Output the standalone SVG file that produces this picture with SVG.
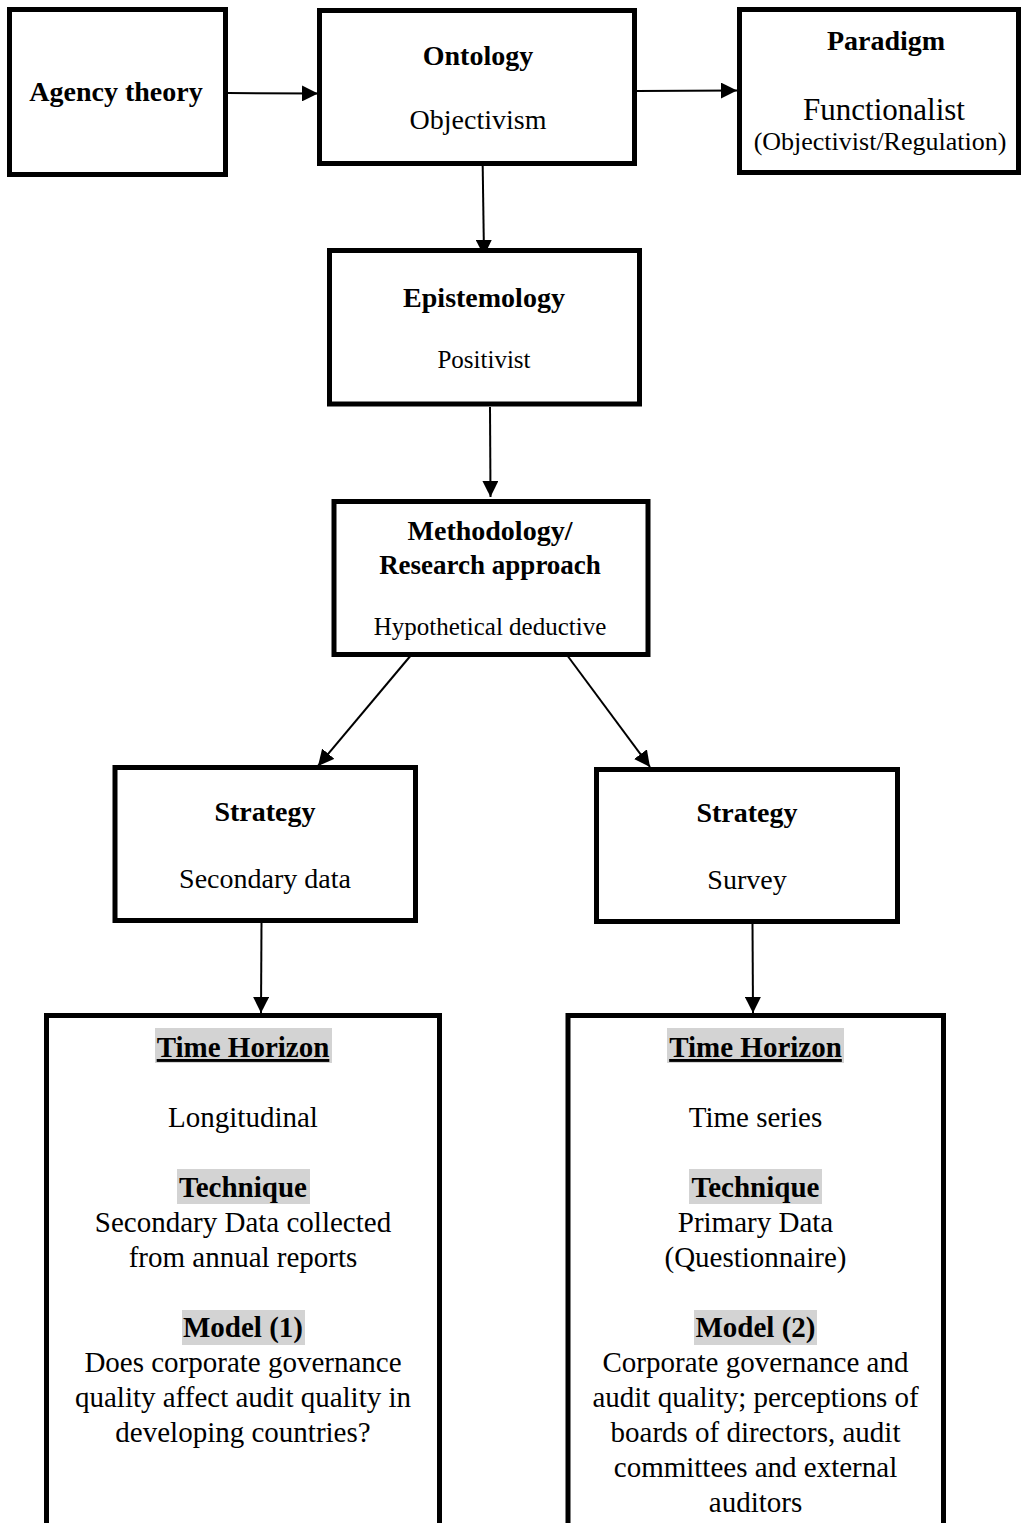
<svg xmlns="http://www.w3.org/2000/svg" width="1021" height="1523" viewBox="0 0 1021 1523">
<defs>
<style>
.box{fill:#fff;stroke:#000;stroke-width:5}
.t{font-family:"Liberation Serif","Times New Roman",serif;fill:#000;text-anchor:middle}
.b{font-weight:bold}
.hl{fill:#d3d3d3}
.c{stroke:#000;stroke-width:2;fill:none;marker-end:url(#ah)}
</style>
<marker id="ah" markerUnits="userSpaceOnUse" markerWidth="16" markerHeight="16" viewBox="0 0 14 14" refX="14" refY="7" orient="auto">
<path d="M0,0 L14,7 L0,14 Z" fill="#000"/>
</marker>
</defs>
<rect width="1021" height="1523" fill="#fff"/>

<g id="connectors">
<line class="c" x1="228" y1="93" x2="318" y2="93.5"/>
<line class="c" x1="637" y1="91" x2="737" y2="90.5"/>
<line class="c" x1="482.7" y1="166" x2="484" y2="256"/>
<line class="c" x1="490" y1="407" x2="490.5" y2="497"/>
<line class="c" x1="412" y1="654" x2="318" y2="766"/>
<line class="c" x1="564" y1="651" x2="650" y2="767"/>
<line class="c" x1="261.5" y1="923" x2="261" y2="1013"/>
<line class="c" x1="752.5" y1="924" x2="753" y2="1013"/>
</g>

<g id="agency">
<rect class="box" x="9.5" y="9.5" width="216" height="165"/>
<text class="t b" x="116" y="101" font-size="28">Agency theory</text>
</g>

<g id="ontology">
<rect class="box" x="319.5" y="10.5" width="315" height="153"/>
<text class="t b" x="478" y="65" font-size="28">Ontology</text>
<text class="t" x="478" y="129" font-size="28">Objectivism</text>
</g>

<g id="paradigm">
<rect class="box" x="739.5" y="9.5" width="279" height="163"/>
<text class="t b" x="886" y="50" font-size="28">Paradigm</text>
<text class="t" x="884" y="120" font-size="31">Functionalist</text>
<text class="t" x="880" y="150" font-size="26">(Objectivist/Regulation)</text>
</g>

<g id="epistemology">
<rect class="box" x="329.5" y="250.5" width="310" height="153.5"/>
<text class="t b" x="484" y="307" font-size="28">Epistemology</text>
<text class="t" x="484" y="368" font-size="25">Positivist</text>
</g>

<g id="methodology">
<rect class="box" x="334" y="501.5" width="314" height="153"/>
<text class="t b" x="490" y="540" font-size="28">Methodology/</text>
<text class="t b" x="490" y="574" font-size="27">Research approach</text>
<text class="t" x="490" y="635" font-size="25">Hypothetical deductive</text>
</g>

<g id="strategy-left">
<rect class="box" x="115" y="767.5" width="300.5" height="153"/>
<text class="t b" x="265" y="821" font-size="28">Strategy</text>
<text class="t" x="265" y="888" font-size="28">Secondary data</text>
</g>

<g id="strategy-right">
<rect class="box" x="596.5" y="769.5" width="301" height="152"/>
<text class="t b" x="747" y="822" font-size="28">Strategy</text>
<text class="t" x="747" y="889" font-size="28">Survey</text>
</g>

<g id="details-left">
<rect class="box" x="46.5" y="1015.5" width="393" height="530"/>
<rect class="hl" x="155" y="1028" width="177" height="35"/>
<rect class="hl" x="177" y="1169" width="133" height="35"/>
<rect class="hl" x="182" y="1310" width="123" height="35"/>
<text class="t b" x="243" y="1057" font-size="29" text-decoration="underline">Time Horizon</text>
<text class="t" x="243" y="1127" font-size="29">Longitudinal</text>
<text class="t b" x="243" y="1197" font-size="29">Technique</text>
<text class="t" x="243" y="1232" font-size="29">Secondary Data collected</text>
<text class="t" x="243" y="1267" font-size="29">from annual reports</text>
<text class="t b" x="243" y="1337" font-size="29">Model (1)</text>
<text class="t" x="243" y="1372" font-size="29">Does corporate governance</text>
<text class="t" x="243" y="1407" font-size="29">quality affect audit quality in</text>
<text class="t" x="243" y="1442" font-size="29">developing countries?</text>
</g>

<g id="details-right">
<rect class="box" x="568" y="1015.5" width="375.5" height="530"/>
<rect class="hl" x="667" y="1028" width="177" height="35"/>
<rect class="hl" x="689" y="1169" width="133" height="35"/>
<rect class="hl" x="694" y="1310" width="123" height="35"/>
<text class="t b" x="755.5" y="1057" font-size="29" text-decoration="underline">Time Horizon</text>
<text class="t" x="755.5" y="1127" font-size="29">Time series</text>
<text class="t b" x="755.5" y="1197" font-size="29">Technique</text>
<text class="t" x="755.5" y="1232" font-size="29">Primary Data</text>
<text class="t" x="755.5" y="1267" font-size="29">(Questionnaire)</text>
<text class="t b" x="755.5" y="1337" font-size="29">Model (2)</text>
<text class="t" x="755.5" y="1372" font-size="29">Corporate governance and</text>
<text class="t" x="755.5" y="1407" font-size="29">audit quality; perceptions of</text>
<text class="t" x="755.5" y="1442" font-size="29">boards of directors, audit</text>
<text class="t" x="755.5" y="1477" font-size="29">committees and external</text>
<text class="t" x="755.5" y="1512" font-size="29">auditors</text>
</g>
</svg>
